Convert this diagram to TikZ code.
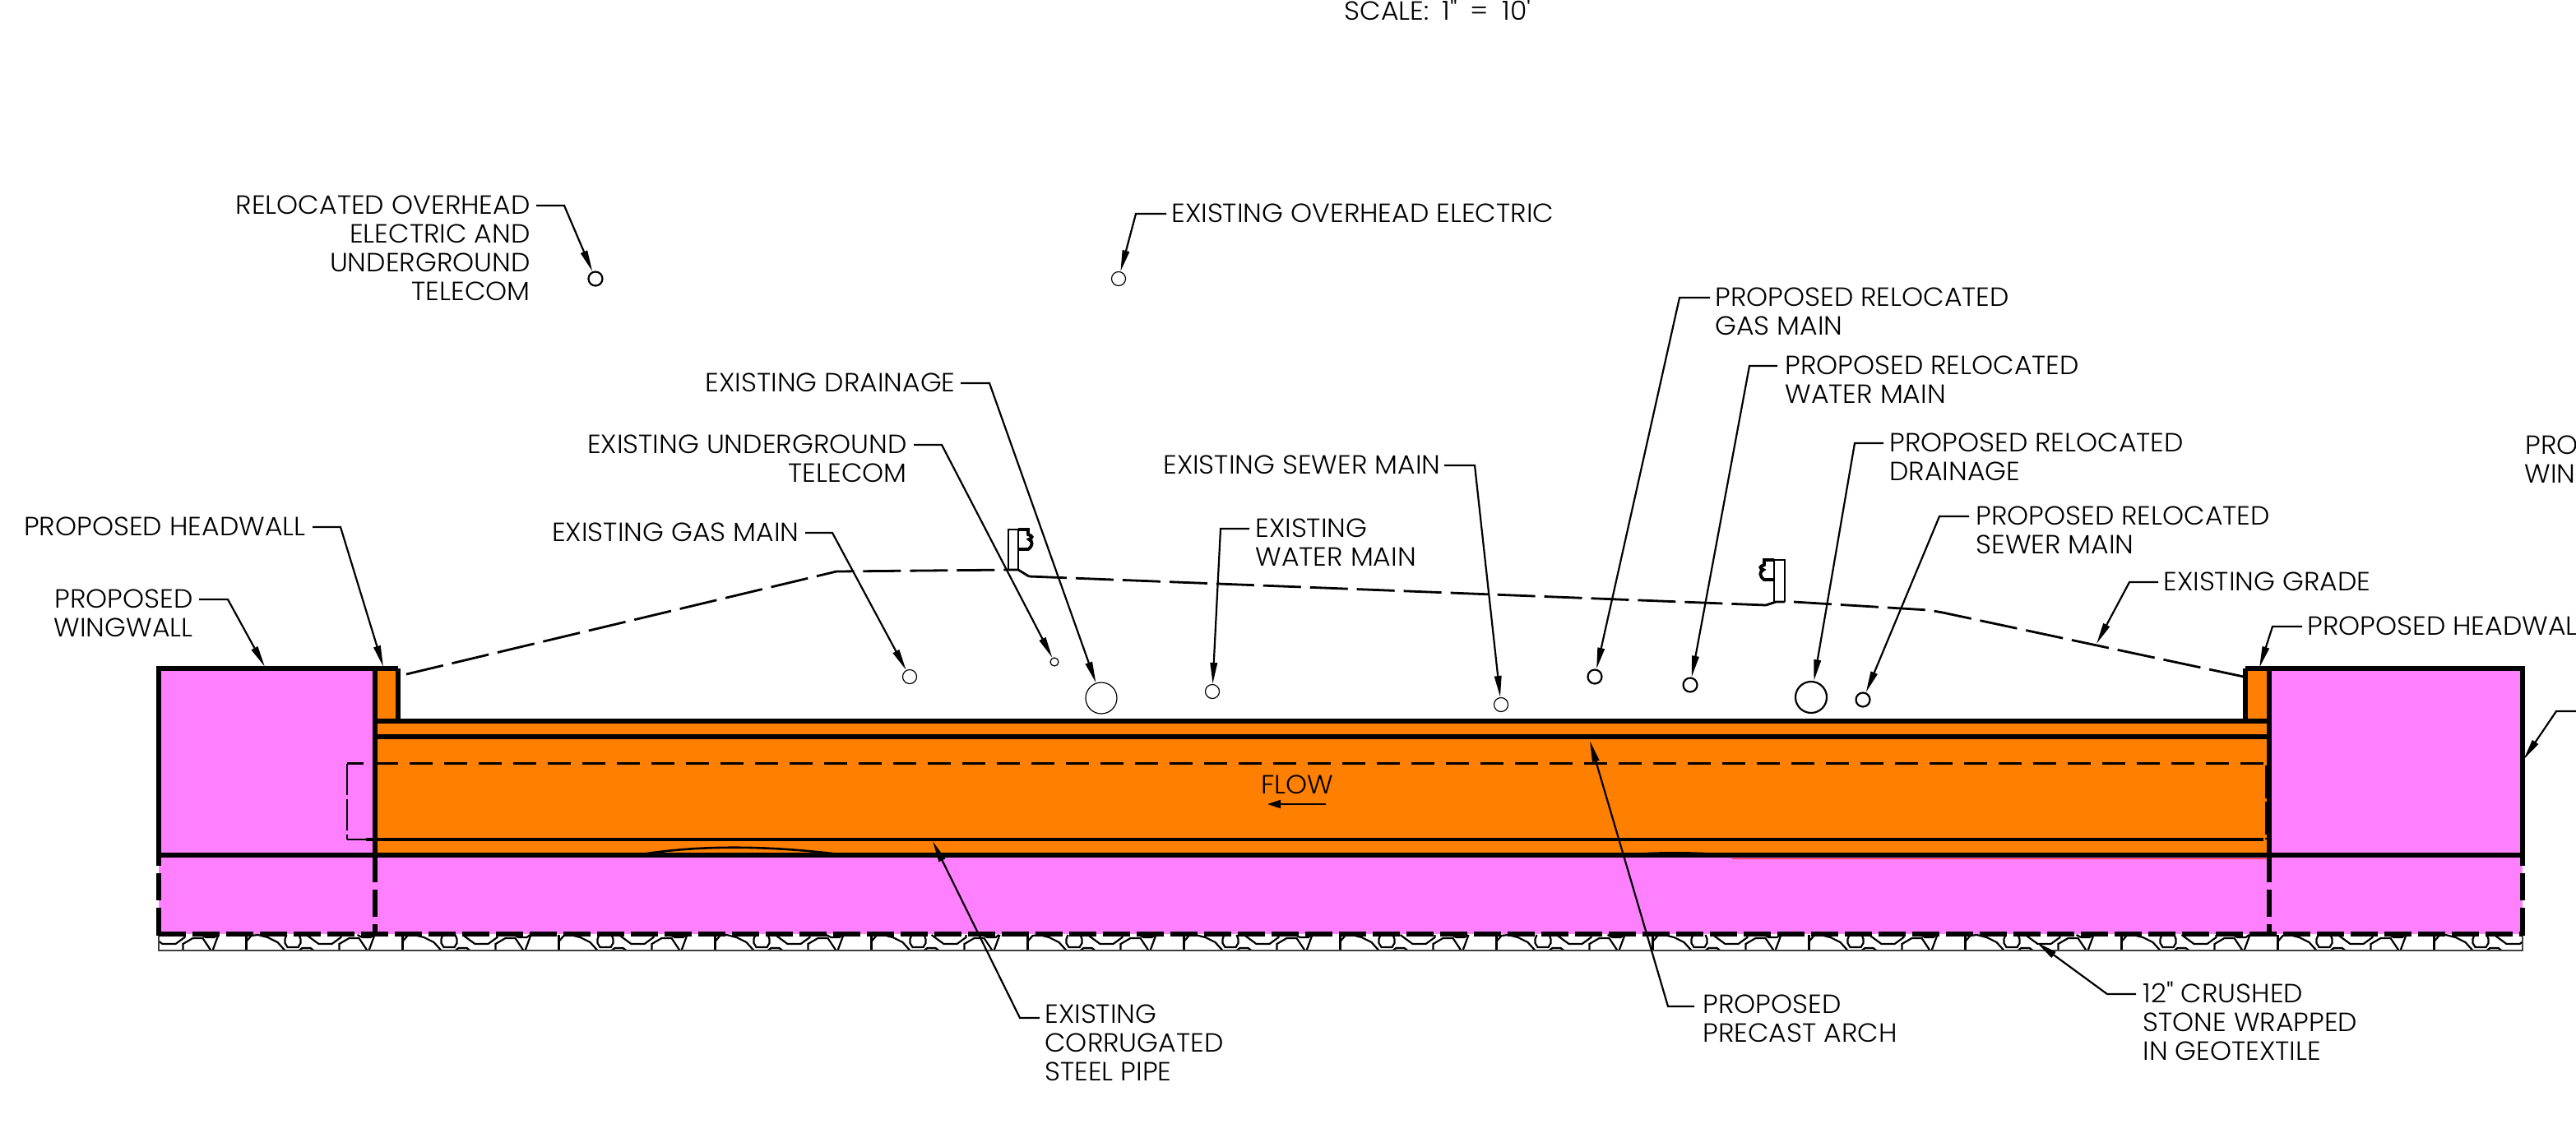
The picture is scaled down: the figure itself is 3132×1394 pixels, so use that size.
\documentclass[tikz,border=0pt]{standalone}
\usepackage{fontspec}
\usetikzlibrary{arrows.meta}
\newfontfamily\lfont{Poppins}[UprightFont=* Light,FakeStretch=1.035]
\definecolor{pinkfill}{HTML}{FF80FF}
\definecolor{orangefill}{HTML}{FF8000}
\tikzset{
  lab/.style={inner sep=0pt,yshift=.7pt,anchor=north west,align=left,font=\lfont\fontsize{16}{17.5}\selectfont},
  labr/.style={inner sep=0pt,yshift=.7pt,anchor=north east,align=right,font=\lfont\fontsize{16}{17.5}\selectfont},
  leader/.style={line width=1.1pt,-{Triangle[length=13pt,width=4.2pt]}},
  pipethin/.style={draw,circle,inner sep=0pt,line width=.6pt},
  pipethick/.style={draw,circle,inner sep=0pt,line width=1.1pt},
  heavy/.style={line width=3pt,line cap=butt},
  heavydash/.style={line width=3pt,dash pattern=on 16.5pt off 4pt},
  thinline/.style={line width=1.7pt},
  hatch/.style={line width=1.1pt},
  gradeline/.style={line width=1.4pt,dash pattern=on 23pt off 5.5pt},
}
\begin{document}
\begin{tikzpicture}[x=.5pt,y=-.5pt]
\useasboundingbox (0,0) rectangle (3132,1394);
\clip (0,0) rectangle (3132,1394);
% fills
\fill[pinkfill] (193,813) rectangle (456,1136);
\fill[pinkfill] (2759,813) rectangle (3067,1136);
\fill[pinkfill] (456,1040) rectangle (2759,1136);
\fill[orangefill] (456,813) rectangle (484,877);
\fill[orangefill] (2730,813) rectangle (2759,877);
\fill[orangefill] (456,877) rectangle (2759,1040);
\draw[line width=.9pt,red!70!orange] (2106,1044.5) -- (2759,1044.5);
% stone hatch
\begin{scope}
\clip (193,1136) rectangle (3067,1156);
\foreach \t in {0,...,15}{
 \begin{scope}[shift={(109.5+190*\t,1136)}]
  \draw[hatch] (0,1) -- (0,20);
  \draw[hatch] (0,9) -- (6,2) -- (14,1) -- (26,4) -- (38,10) -- (47,20);
  \draw[hatch] (49,1) -- (47,6) -- (47,11) -- (50,16) -- (63,16) -- (66,11) -- (66,6) -- (64,1);
  \draw[hatch] (64,20) -- (68,17) -- (78,17) -- (82,20);
  \draw[hatch] (73,1) -- (88,12) -- (104,12) -- (115,4) -- (115,1);
  \draw[hatch] (113,20) -- (113,12) -- (125,5) -- (137,5) -- (147,20);
  \draw[hatch] (156,1) -- (149,20);
  \draw[hatch] (135,1) -- (141,4) -- (151,4) -- (155,1);
 \end{scope}
}
\end{scope}
\draw[line width=1.1pt,black!75] (193,1136) -- (193,1156) -- (3067,1156) -- (3067,1136);
% dashed interior outline
\draw[line width=1.5pt,dash pattern=on 14pt off 7pt] (2752,928.5) -- (422,928.5);
\draw[line width=1.1pt,dash pattern=on 19pt off 2.5pt] (422,928.5) -- (422,1021);
\draw[line width=1.1pt] (422,1021) -- (445,1021);
\draw[thinline] (445,1021) -- (2752,1021);
\draw[line width=1.1pt,dash pattern=on 20pt off 2pt] (2755,931) -- (2755,1021);
% structure lines
\draw[heavy] (193,813) -- (484,813);
\draw[heavy] (2730,813) -- (3067,813);
\draw[heavy] (193,810) -- (193,1040);
\draw[heavy] (3067,810) -- (3067,1040);
\draw[heavy] (456,813) -- (456,1073);
\draw[heavy] (2759,813) -- (2759,1073);
\draw[heavy] (484,813) -- (484,880);
\draw[heavy] (2730,813) -- (2730,880);
\draw[heavy] (456,877) -- (2759,877);
\draw[heavy] (456,896) -- (2759,896);
\draw[heavy] (193,1040) -- (3067,1040);
\draw[heavy] (456,1082) -- (456,1115);
\draw[heavy] (456,1124) -- (456,1136);
\draw[heavy] (2759,1082) -- (2759,1115);
\draw[heavy] (2759,1124) -- (2759,1136);
\draw[heavy] (193,1040) -- (193,1053);
\draw[heavy] (193,1062) -- (193,1095);
\draw[heavy] (193,1104) -- (193,1138);
\draw[heavy] (3067,1040) -- (3067,1053);
\draw[heavy] (3067,1062) -- (3067,1095);
\draw[heavy] (3067,1104) -- (3067,1138);
\draw[heavydash] (193,1136) -- (3067,1136);
% pipe bumps on the old invert
\draw[line width=1.3pt] (780,1039) .. controls (850,1028) and (930,1028) .. (1020,1039);
\fill (1974,1039) .. controls (2010,1035) and (2060,1035) .. (2106,1039) -- cycle;
% grade
\draw[gradeline] (494,820) -- (1017,695) -- (1228,693);
\draw[line width=1.4pt] (1228,693) -- (1238,693) -- (1251,701);
\draw[gradeline] (1251,701) -- (2147,736);
\draw[line width=1.4pt] (2147,736) -- (2159,732) -- (2170,732);
\draw[gradeline] (2181,732) -- (2345,742) -- (2362,745) -- (2728,823);
% guardrail posts
\draw[line width=1.4pt] (1226,693) -- (1226,644) -- (1238,644) -- (1238,693);
\draw[line width=1.9pt] (1238,644) -- (1250,644) -- (1250,650) .. controls (1256,652) and (1256,654) .. (1251,656) .. controls (1256,658) and (1256,664) .. (1250,668) -- (1238,668);
\draw[line width=1.4pt] (2170,732) -- (2170,681) -- (2157,681) -- (2157,732);
\draw[line width=1.9pt] (2157,681) -- (2145,681) -- (2145,687) .. controls (2139,689) and (2139,691) .. (2144,693) .. controls (2139,695) and (2139,701) .. (2145,705) -- (2157,705);
% pipes
\node[pipethick,minimum size=8.5pt] (pRelOH) at (724,339) {};
\node[pipethin,minimum size=8.5pt] (pExOH) at (1360,339) {};
\node[pipethin,minimum size=8.5pt] (pExGas) at (1106,823) {};
\node[pipethin,minimum size=5pt] (pExTel) at (1282,805) {};
\node[pipethin,minimum size=19pt] (pExDr) at (1339,849) {};
\node[pipethin,minimum size=8.5pt] (pExWat) at (1474,841) {};
\node[pipethin,minimum size=8.5pt] (pExSew) at (1825,857) {};
\node[pipethick,minimum size=8.5pt] (pPrGas) at (1939,823) {};
\node[pipethick,minimum size=8.5pt] (pPrWat) at (2055,833) {};
\node[pipethick,minimum size=19pt] (pPrDr) at (2202,848) {};
\node[pipethick,minimum size=8.5pt] (pPrSew) at (2265,851) {};
% labels
\node[lab,anchor=north] (tScale) at (1748,0) {\spaceskip=.5em SCALE: 1" = 10'};
\node[labr] (tRelOH) at (645,239) {RELOCATED OVERHEAD\\ELECTRIC AND\\UNDERGROUND\\TELECOM};
\node[lab] (tExOH) at (1424,249) {EXISTING OVERHEAD ELECTRIC};
\node[labr] (tExDr) at (1162,455) {EXISTING DRAINAGE};
\node[labr] (tExTel) at (1103,530) {EXISTING UNDERGROUND\\TELECOM};
\node[labr] (tExGas) at (972,637) {EXISTING GAS MAIN};
\node[labr] (tExSew) at (1752,555) {EXISTING SEWER MAIN};
\node[lab] (tExWat) at (1526,632) {EXISTING\\WATER MAIN};
\node[lab] (tPrGas) at (2085,351) {PROPOSED RELOCATED\\GAS MAIN};
\node[lab] (tPrWat) at (2170,434) {PROPOSED RELOCATED\\WATER MAIN};
\node[lab] (tPrDr) at (2297,528) {PROPOSED RELOCATED\\DRAINAGE};
\node[lab] (tPrSew) at (2402,617) {PROPOSED RELOCATED\\SEWER MAIN};
\node[lab] (tGrade) at (2630,697) {EXISTING GRADE};
\node[lab] (tHeadR) at (2805,751) {PROPOSED HEADWALL};
\node[labr] (tWingR) at (3239,531) {PROPOSED\\WINGWALL};
\node[labr] (tHeadL) at (372,630) {PROPOSED HEADWALL};
\node[labr] (tWingL) at (235,718) {PROPOSED\\WINGWALL};
\node[lab] (tStone) at (2605,1195) {12" CRUSHED\\STONE WRAPPED\\IN GEOTEXTILE};
\node[lab] (tArch) at (2070,1211) {PROPOSED\\PRECAST ARCH};
\node[lab] (tPipe) at (1270,1223) {EXISTING\\CORRUGATED\\STEEL PIPE};
\node[lab] (tFlow) at (1533,944) {FLOW};
% leader coordinates
\coordinate (fa) at (1612,978); \coordinate (fb) at (1541,978);
\draw[line width=1pt,-{Triangle[length=8pt,width=5pt]}] (fa) -- (fb);
\coordinate (a1) at (652,250); \coordinate (b1) at (686,250);
\draw[leader] (a1) -- (b1) -- (pRelOH);
\coordinate (a2) at (1418,260); \coordinate (b2) at (1381,260);
\draw[leader] (a2) -- (b2) -- (pExOH);
\coordinate (a3) at (1168,466); \coordinate (b3) at (1203,466);
\draw[leader] (a3) -- (b3) -- (pExDr);
\coordinate (a4) at (1111,541); \coordinate (b4) at (1145,541);
\draw[leader] (a4) -- (b4) -- (pExTel);
\coordinate (a5) at (979,648); \coordinate (b5) at (1012,648);
\draw[leader] (a5) -- (b5) -- (pExGas);
\coordinate (a6) at (1756,566); \coordinate (b6) at (1793,566);
\draw[leader] (a6) -- (b6) -- (pExSew);
\coordinate (a7) at (1519,643); \coordinate (b7) at (1484,643);
\draw[leader] (a7) -- (b7) -- (pExWat);
\coordinate (a8) at (2079,362); \coordinate (b8) at (2042,362);
\draw[leader] (a8) -- (b8) -- (pPrGas);
\coordinate (a9) at (2161,445); \coordinate (b9) at (2127,445);
\draw[leader] (a9) -- (b9) -- (pPrWat);
\coordinate (a10) at (2290,539); \coordinate (b10) at (2255,539);
\draw[leader] (a10) -- (b10) -- (pPrDr);
\coordinate (a11) at (2394,628); \coordinate (b11) at (2358,628);
\draw[leader] (a11) -- (b11) -- (pPrSew);
\coordinate (a12) at (2624,708); \coordinate (b12) at (2589,708); \coordinate (c12) at (2549,783);
\draw[leader] (a12) -- (b12) -- (c12);
\coordinate (a13) at (2799,762); \coordinate (b13) at (2763,762); \coordinate (c13) at (2747,812);
\draw[leader] (a13) -- (b13) -- (c13);
\coordinate (a14) at (3140,865); \coordinate (b14) at (3108,865); \coordinate (c14) at (3068,924);
\draw[leader] (a14) -- (b14) -- (c14);
\coordinate (a15) at (380,641); \coordinate (b15) at (414,641); \coordinate (c15) at (466,811);
\draw[leader] (a15) -- (b15) -- (c15);
\coordinate (a16) at (242,729); \coordinate (b16) at (277,729); \coordinate (c16) at (322,811);
\draw[leader] (a16) -- (b16) -- (c16);
\coordinate (a17) at (1264,1238); \coordinate (b17) at (1240,1238); \coordinate (c17) at (1134,1023);
\draw[leader] (a17) -- (b17) -- (c17);
\coordinate (a18) at (2060,1224); \coordinate (b18) at (2028,1224); \coordinate (c18) at (1933,901);
\draw[leader] (a18) -- (b18) -- (c18);
\coordinate (a19) at (2597,1209); \coordinate (b19) at (2562,1209); \coordinate (c19) at (2476,1146);
\draw[leader] (a19) -- (b19) -- (c19);
\end{tikzpicture}
\end{document}
